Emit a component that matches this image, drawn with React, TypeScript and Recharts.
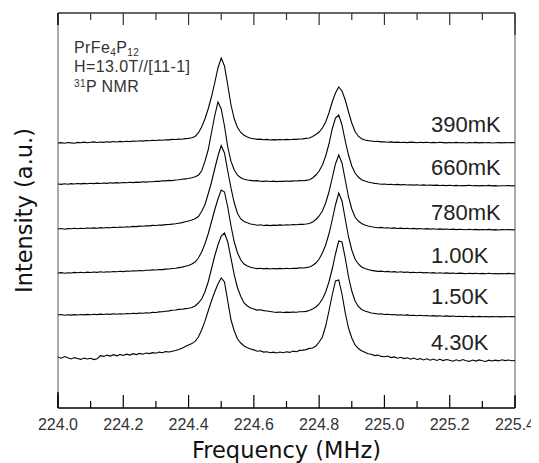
import React, { useMemo } from 'react';
import { LineChart, Line, XAxis, YAxis, ReferenceLine } from 'recharts';

// Frequency sweep: 224.00 MHz upward in 0.01 MHz steps
const FREQ_START = 224.0;
const FREQ_STEP = 0.01;

const MAJOR_TICKS = [224.0, 224.2, 224.4, 224.6, 224.8, 225.0, 225.2, 225.4];
const MINOR_TICKS = [224.1, 224.3, 224.5, 224.7, 224.9, 225.1, 225.3];

const TEMP_LABELS = ['390mK', '660mK', '780mK', '1.00K', '1.50K', '4.30K'];

// vertical shift applied to each spectrum (a.u.)
const OFFSETS = [265, 224, 179, 135, 93, 51];

const SPEC_390MK = [
  0.0, 0.4, -0.3, 0.5, 0.1, -0.2, 0.6, 0.3, 0.9, 0.2,
  0.7, 1.1, 0.5, 1.0, 0.6, 1.3, 0.9, 1.5, 1.0, 1.6,
  1.3, 1.8, 1.4, 2.0, 1.7, 2.2, 1.9, 2.5, 2.3, 2.8,
  2.5, 3.0, 2.8, 3.3, 3.1, 3.6, 3.5, 3.9, 3.8, 4.4,
  4.6, 5.2, 6.5, 10, 16, 24, 34, 46, 60, 75,
  85, 77, 58, 38, 24, 15.5, 10.5, 7.8, 6.0, 4.8,
  4.3, 3.6, 3.9, 3.2, 3.6, 3.0, 3.4, 3.1, 3.5, 3.2,
  3.6, 3.3, 3.8, 3.6, 4.0, 4.1, 4.6, 5.0, 6.5, 8.5,
  11, 15, 21, 30, 41, 50, 56, 52, 43, 31,
  20, 11.5, 6.8, 4.2, 3.0, 2.4, 2.0, 1.5, 1.6, 1.1,
  1.3, 0.8, 1.1, 0.6, 0.9, 0.5, 0.8, 0.4, 0.9, 0.6,
  0.3, 0.7, 0.4, 0.8, 0.3, 0.6, 0.2, 0.7, 0.4, 0.1,
  0.5, 0.3, 0.6, 0.2, 0.5, 0.0, 0.4, 0.3, 0.6, 0.1,
  0.4, 0.2, 0.5, 0.0, 0.3, 0.4, 0.1, 0.5, 0.2, 0.4,
  0.3,
];

const SPEC_660MK = [
  0.0, -0.4, 0.3, -0.2, 0.4, 0.0, 0.5, 0.1, 0.6, 0.2,
  0.7, 0.4, 0.9, 0.5, 1.0, 0.6, 1.2, 0.9, 1.4, 1.0,
  1.5, 1.2, 1.7, 1.4, 1.9, 1.6, 2.2, 1.9, 2.3, 2.2,
  2.8, 2.6, 3.2, 3.1, 3.6, 3.4, 4.0, 4.3, 4.7, 5.1,
  5.5, 6.3, 7.2, 8.8, 13, 22.6, 34, 51, 68, 82,
  75, 58, 37, 22.6, 14, 8.8, 6.2, 4.7, 4.0, 3.6,
  3.1, 3.4, 2.8, 2.6, 3.0, 2.5, 2.9, 2.4, 2.8, 2.6,
  3.0, 2.6, 3.1, 3.0, 3.4, 3.3, 3.6, 4.3, 6.0, 9,
  13, 19, 28, 40, 55, 66, 69, 59, 43, 29,
  18, 11, 7, 4.3, 3.0, 2.0, 1.2, 0.6, 0.3, -0.2,
  0.0, -0.5, -0.2, -0.7, -0.4, -0.9, -0.5, -1.0, -0.7, -1.1,
  -0.8, -1.3, -0.9, -1.2, -1.0, -1.4, -1.1, -1.5, -1.2, -1.6,
  -1.3, -1.7, -1.4, -1.8, -1.5, -1.6, -1.3, -1.8, -1.5, -1.9,
  -1.6, -1.7, -1.4, -1.9, -1.6, -2.0, -1.7, -1.8, -1.5, -1.9,
  -1.7,
];

const SPEC_780MK = [
  0.0, 0.5, -0.2, 0.4, 0.2, 0.7, 0.3, 0.8, 0.5, 1.0,
  0.7, 1.1, 0.8, 1.4, 1.0, 1.5, 1.3, 1.8, 1.5, 2.0,
  1.7, 2.3, 2.0, 2.6, 2.4, 2.9, 2.7, 3.2, 3.1, 3.6,
  3.5, 4.0, 3.9, 4.4, 4.5, 4.9, 5.2, 5.8, 6.4, 7.2,
  8.0, 9.0, 10.2, 12.5, 17.5, 24.3, 35, 46.5, 60, 73,
  83.5, 76, 58, 41, 26, 15.5, 10, 7.5, 6.2, 5.0,
  4.5, 3.8, 4.2, 3.5, 3.9, 3.4, 3.9, 3.6, 4.1, 3.8,
  4.3, 4.0, 4.5, 4.3, 4.8, 4.6, 5.0, 5.5, 7.0, 9.5,
  13, 18, 26, 37, 51, 65, 74, 66, 49, 32,
  20, 12, 8, 5.5, 4.0, 3.0, 2.2, 1.7, 1.3, 1.6,
  1.0, 1.3, 0.7, 1.1, 0.5, 0.9, 0.4, 0.8, 0.3, 0.6,
  0.1, 0.5, 0.0, 0.4, -0.1, 0.3, -0.3, 0.1, -0.4, 0.0,
  -0.5, -0.1, -0.6, -0.2, -0.5, -0.8, -0.3, -0.7, -0.4, -0.9,
  -0.5, -0.8, -0.4, -0.9, -0.6, -1.0, -0.6, -0.8, -0.5, -0.9,
  -0.7,
];

const SPEC_1K00 = [
  0.0, 0.4, -0.3, 0.3, 0.0, 0.6, 0.2, 0.7, 0.3, 0.9,
  0.5, 1.0, 0.6, 1.2, 0.8, 1.3, 1.0, 1.5, 1.2, 1.7,
  1.4, 2.0, 1.7, 2.2, 2.0, 2.5, 2.3, 2.8, 2.7, 3.1,
  3.0, 3.5, 3.4, 3.9, 4.0, 4.5, 4.8, 5.4, 5.9, 6.7,
  7.5, 9.0, 11, 15, 21, 29, 39, 51, 63, 74,
  83, 81, 66, 47, 31, 20, 13, 9, 7, 5.8,
  5.0, 4.4, 4.8, 4.1, 4.6, 4.0, 4.5, 4.1, 4.6, 4.2,
  4.7, 4.3, 4.8, 4.6, 5.1, 5.0, 5.4, 6.0, 7.5, 10,
  14, 20, 28, 39, 53, 68, 80, 72, 54, 36,
  23, 14, 9, 6, 4.5, 3.5, 2.6, 2.1, 1.6, 1.9,
  1.3, 1.6, 1.0, 1.4, 0.8, 1.2, 0.6, 1.0, 0.4, 0.8,
  0.3, 0.7, 0.1, 0.5, 0.0, 0.4, -0.2, 0.3, -0.3, 0.1,
  -0.4, 0.0, -0.5, -0.1, -0.4, -0.7, -0.2, -0.6, -0.3, -0.8,
  -0.4, -0.7, -0.3, -0.8, -0.5, -0.9, -0.5, -0.7, -0.4, -0.8,
  -0.6,
];

const SPEC_1K50 = [
  0.0, 0.5, -0.3, 0.2, -0.1, 0.4, 0.0, 0.5, 0.1, 0.6,
  0.2, 0.8, 0.4, 0.9, 0.5, 1.0, 0.6, 1.2, 0.8, 1.3,
  1.0, 1.5, 1.2, 1.7, 1.4, 2.0, 1.7, 2.2, 2.0, 2.6,
  2.5, 3.1, 3.2, 3.8, 4.1, 4.7, 5.0, 5.6, 5.8, 6.4,
  6.7, 7.5, 9.0, 12, 16, 23, 33, 46, 59, 70,
  79, 82, 73, 56.7, 40, 27, 18.5, 12, 9, 7,
  6.0, 4.9, 5.2, 4.4, 4.0, 3.5, 3.0, 2.6, 3.0, 2.5,
  2.9, 2.6, 3.0, 2.8, 3.2, 3.3, 3.6, 4.5, 6.0, 8,
  11, 16, 23, 33, 46, 61, 74, 73, 57, 38,
  24, 14, 8.5, 5.5, 4.0, 3.0, 2.0, 1.5, 1.0, 1.2,
  0.5, 0.8, 0.2, 0.5, -0.1, 0.3, -0.3, 0.1, -0.5, -0.2,
  -0.7, -0.3, -0.8, -0.5, -1.0, -0.6, -1.1, -0.8, -1.3, -0.9,
  -1.4, -1.0, -1.5, -1.2, -1.6, -1.3, -1.7, -1.4, -1.8, -1.4,
  -1.7, -1.5, -1.9, -1.5, -1.8, -1.6, -1.9, -1.5, -1.8, -1.6,
  -1.7,
];

const SPEC_4K30 = [
  0.0, -1.2, 0.4, -0.8, -1.9, -0.6, -1.5, -2.4, -1.1, -2.0,
  -1.3, -2.6, -1.7, 1.4, 0.6, 1.9, 0.9, 2.3, 1.2, 2.5,
  1.6, 2.8, 1.9, 3.3, 2.4, 3.6, 2.8, 4.0, 3.4, 4.4,
  3.8, 4.9, 4.2, 5.4, 5.0, 5.8, 6.5, 7.6, 8.8, 10.4,
  11.9, 13.4, 15.6, 20, 27, 35.6, 46, 56, 65, 73,
  79, 75, 56, 37, 26, 18, 14, 11, 9.3, 7.9,
  7.1, 5.8, 6.2, 4.9, 5.3, 4.2, 4.9, 4.0, 5.0, 4.3,
  5.2, 4.6, 5.9, 5.3, 6.6, 6.9, 7.4, 8.6, 9.0, 11,
  15, 20, 31, 46, 62, 76, 77, 63, 44, 29,
  19, 12, 8.5, 6.2, 4.8, 3.3, 2.7, 1.4, 1.9, 0.6,
  0.2, 0.9, -0.6, 0.1, -1.2, -0.3, -1.6, -0.8, -2.2, -1.1,
  -2.5, -1.6, -2.9, -1.8, -3.2, -2.0, -3.4, -2.3, -3.6, -2.5,
  -3.3, -4.2, -2.8, -3.9, -2.6, -3.7, -4.4, -3.0, -4.1, -2.9,
  -3.8, -4.5, -3.2, -4.0, -3.1, -3.9, -2.8, -3.6, -3.0, -3.8,
  -3.5,
];

const SPECTRA = [SPEC_390MK, SPEC_660MK, SPEC_780MK, SPEC_1K00, SPEC_1K50, SPEC_4K30];

const CHART_W = 531;
const CHART_H = 455;
const MARGIN = { top: 5, right: 24, bottom: 0, left: 50 };
const PLOT_BOTTOM = CHART_H - 55;
const Y_MAX = 395;

const SANS = '"Liberation Sans", Arial, sans-serif';
const TITLE_FONT = '"DejaVu Sans", sans-serif';

const isMajor = (v: number) => MAJOR_TICKS.some((t) => Math.abs(t - v) < 1e-6);

function BottomTick(props: any) {
  const { x, y, payload } = props;
  const major = isMajor(payload.value);
  return (
    <g>
      <line x1={x} y1={y} x2={x} y2={y - (major ? 13 : 7)} stroke="#000" strokeWidth={1.2} />
      {major && (
        <text x={x} y={y + 22} textAnchor="middle" fontSize={16} fontFamily={SANS} fill="#333">
          {payload.value.toFixed(1)}
        </text>
      )}
    </g>
  );
}

export default function App() {
  const data = useMemo(
    () =>
      SPEC_390MK.map((_, i) => {
        const row: Record<string, number> = { f: +(FREQ_START + i * FREQ_STEP).toFixed(2) };
        SPECTRA.forEach((spec, k) => {
          row[`s${k}`] = spec[i] + OFFSETS[k];
        });
        return row;
      }),
    []
  );

  const allTicks = [...MAJOR_TICKS, ...MINOR_TICKS].sort((a, b) => a - b);
  const labelBaselines = [124, 167, 212, 255, 296, 342];

  return (
    <div style={{ position: 'relative', width: CHART_W, height: CHART_H }}>
      <LineChart width={CHART_W} height={CHART_H} data={data} margin={MARGIN}>
        <XAxis
          dataKey="f"
          type="number"
          domain={[224.0, 225.4]}
          allowDataOverflow
          ticks={allTicks}
          interval={0}
          tickSize={0}
          tickMargin={0}
          tickLine={false}
          tick={<BottomTick />}
          axisLine={{ stroke: '#000', strokeWidth: 1.4 }}
          height={55}
        />
        <YAxis hide type="number" domain={[0, Y_MAX]} allowDataOverflow />

        {/* frame: top edge with inward ticks, grey sides darker near the corners */}
        <ReferenceLine y={Y_MAX} stroke="#333" strokeWidth={1.4} />
        {allTicks.map((t) => (
          <ReferenceLine
            key={`top-${t}`}
            segment={[{ x: t, y: Y_MAX }, { x: t, y: Y_MAX - (isMajor(t) ? 12 : 7) }]}
            stroke="#333"
            strokeWidth={1.2}
          />
        ))}
        <ReferenceLine x={224.0} stroke="#888" strokeWidth={1.4} />
        <ReferenceLine x={225.4} stroke="#888" strokeWidth={1.4} />
        <ReferenceLine segment={[{ x: 224.0, y: 0 }, { x: 224.0, y: 16 }]} stroke="#000" strokeWidth={1.4} />
        <ReferenceLine segment={[{ x: 224.0, y: Y_MAX - 12 }, { x: 224.0, y: Y_MAX }]} stroke="#000" strokeWidth={1.4} />
        <ReferenceLine segment={[{ x: 225.4, y: 0 }, { x: 225.4, y: 12 }]} stroke="#333" strokeWidth={1.4} />
        <ReferenceLine segment={[{ x: 225.4, y: Y_MAX - 22 }, { x: 225.4, y: Y_MAX }]} stroke="#333" strokeWidth={1.4} />

        {SPECTRA.map((_, k) => (
          <Line
            key={k}
            dataKey={`s${k}`}
            type="linear"
            stroke="#000"
            strokeWidth={1.1}
            dot={false}
            isAnimationActive={false}
          />
        ))}
      </LineChart>

      <svg
        width={CHART_W}
        height={CHART_H}
        style={{ position: 'absolute', left: 0, top: 0, pointerEvents: 'none' }}
      >
        <g fontFamily={SANS} fill="#333" fontSize={16} letterSpacing={0.4}>
          <text x={66} y={45}>
            PrFe<tspan fontSize={10} dy={3}>4</tspan>
            <tspan dy={-3}>P</tspan>
            <tspan fontSize={10} dy={3}>12</tspan>
          </text>
          <text x={66} y={64}>H=13.0T//[11-1]</text>
          <text x={66} y={84}>
            <tspan fontSize={10} dy={-5}>31</tspan>
            <tspan dy={5}>P NMR</tspan>
          </text>
        </g>

        {TEMP_LABELS.map((t, k) => (
          <text key={t} x={423} y={labelBaselines[k]} fontSize={22} fontFamily={SANS} fill="#222">
            {t}
          </text>
        ))}

        <text
          x={(MARGIN.left + CHART_W - MARGIN.right) / 2}
          y={PLOT_BOTTOM + 50}
          textAnchor="middle"
          fontSize={22.5}
          fontFamily={TITLE_FONT}
          fill="#111"
        >
          Frequency (MHz)
        </text>
        <text
          transform={`translate(23.5, ${(MARGIN.top + PLOT_BOTTOM) / 2}) rotate(-90)`}
          textAnchor="middle"
          fontSize={22.5}
          fontFamily={TITLE_FONT}
          fill="#111"
        >
          Intensity (a.u.)
        </text>
      </svg>
    </div>
  );
}
